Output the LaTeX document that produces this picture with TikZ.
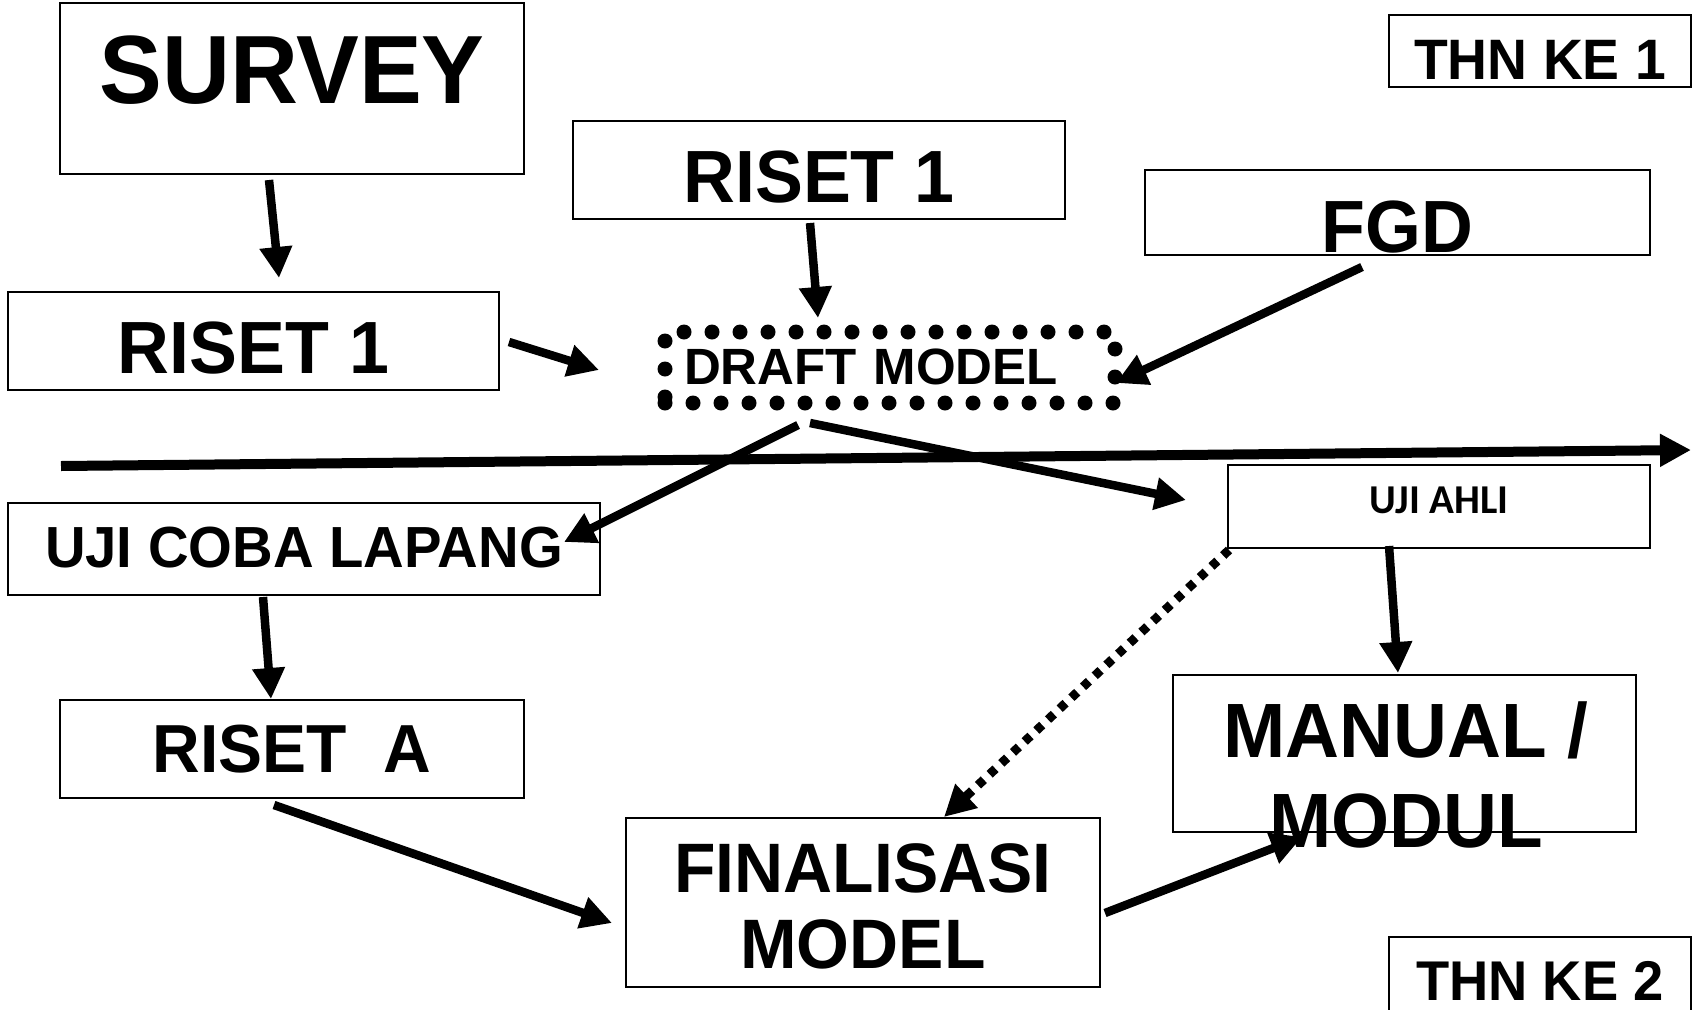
\documentclass[tikz,border=0pt]{standalone}
\usepackage{fontspec}
\newfontfamily\arialfont{Liberation Sans}[FakeStretch=0.97]
\newfontfamily\plainarial{Liberation Sans}
\newfontfamily\calfont{Carlito}
\newcommand{\boxfont}[2]{\arialfont\bfseries\fontsize{#1}{#2}\selectfont}
\usetikzlibrary{arrows.meta,calc}
\tikzset{box/.style={draw,line width=1.6pt,inner sep=0pt,outer sep=0pt,text depth=0pt},
  dotbox/.style={draw,line width=15pt,line cap=round,dash pattern=on 0pt off 28pt,inner sep=0pt,outer sep=0pt},
  arr/.style={line width=8.5pt,-{Triangle[length=31pt,width=31pt]}},
  dotarr/.style={arr,line width=9pt,dash pattern=on 8pt off 8pt}}

\begin{document}
\begin{tikzpicture}[x=1pt,y=1pt]
\path[use as bounding box,fill=white] (0,0) rectangle (1693,-1009);

\node[box,minimum width=464pt,minimum height=171pt,text height=29pt,font=\boxfont{97}{97}] (survey) at (292,-88.5) {SURVEY};
\node[box,minimum width=491pt,minimum height=98pt,text height=64pt,font=\boxfont{74}{74}] (risetkiri) at (253.5,-341) {RISET 1};
\node[box,minimum width=492pt,minimum height=98pt,text height=64pt,font=\boxfont{74}{74}] (risetatas) at (819,-170) {RISET 1};
\node[box,minimum width=505pt,minimum height=85pt,text height=79pt,font=\boxfont{74}{74}] (fgd) at (1397.5,-212.5) {FGD};
\node[box,minimum width=302pt,minimum height=72pt,text height=56pt,font=\boxfont{57}{57}] (thnsatu) at (1540,-51) {THN KE 1};
\node[dotbox,minimum width=450pt,minimum height=71pt,text height=33pt,text depth=0pt,text width=412pt,align=left,
  font=\plainarial\bfseries\fontsize{51}{51}\selectfont] (draft) at (890,-367.5) {DRAFT MODEL};
\node[box,minimum width=592pt,minimum height=92pt,text height=36pt,font=\boxfont{58}{58}] (ujicoba) at (304,-549) {UJI COBA LAPANG};
\node[box,minimum width=422pt,minimum height=83pt,text height=13pt,font=\calfont\bfseries\fontsize{41}{41}\selectfont] (ujiahli) at (1439,-506.5) {UJI AHLI};
\node[box,minimum width=464pt,minimum height=98pt,text height=46pt,font=\boxfont{68}{68}] (risetA) at (292,-749) {RISET\ \ A};
\node[box,minimum width=474pt,minimum height=169pt,align=center,text height=131pt,font=\boxfont{70}{76}] (final) at (863,-902.5) {FINALISASI\\MODEL};
\node[box,minimum width=463pt,minimum height=157pt] (manual) at (1404.5,-753.5) {};
\node[inner sep=0pt,anchor=base,align=center,font=\boxfont{77}{90}] (manualteks) at (1406,-847) {MANUAL /\\MODUL};
\node[box,minimum width=302pt,minimum height=86pt,text height=40pt,font=\boxfont{56}{56}] (thndua) at (1540,-980) {THN KE 2};

\coordinate (waktukiri) at (61,-466);
\coordinate (waktukanan) at (1691,-450);
\draw[arr,line width=10pt] (waktukiri) -- (waktukanan);

\draw[arr] ($(survey.south)+(-23,-6)$) -- ($(risetkiri.north)+(25.5,14)$);
\draw[arr] ($(risetatas.south)+(-9,-4)$) -- ($(draft.north)+(-72,14)$);
\draw[arr] ($(risetkiri.east)+(10,-1)$) -- ($(draft.west)+(-66,-2.5)$);
\draw[arr] ($(fgd.south)+(-35.5,-12)$) -- ($(draft.east)+(1,-15.5)$);
\draw[arr] ($(draft.south)+(-92,-22)$) -- ($(ujicoba.east)+(-36,7)$);
\draw[arr] ($(draft.south)+(-80,-20)$) -- ($(ujiahli.west)+(-42,6.5)$);
\draw[arr] ($(ujicoba.south)+(-41,-2)$) -- ($(risetA.north)+(-21,1)$);
\draw[arr] ($(risetA.south)+(-18,-7)$) -- ($(final.west)+(-14,-20.5)$);
\draw[dotarr] ($(ujiahli.south west)+(1,-2)$) -- ($(final.north)+(81,1)$);
\draw[arr] ($(ujiahli.south)+(-50,2)$) -- ($(manual.north)+(-6.5,2)$);
\draw[arr] ($(final.east)+(5,-10.5)$) -- ($(manual.south)+(-102.5,-5)$);
\end{tikzpicture}
\end{document}
